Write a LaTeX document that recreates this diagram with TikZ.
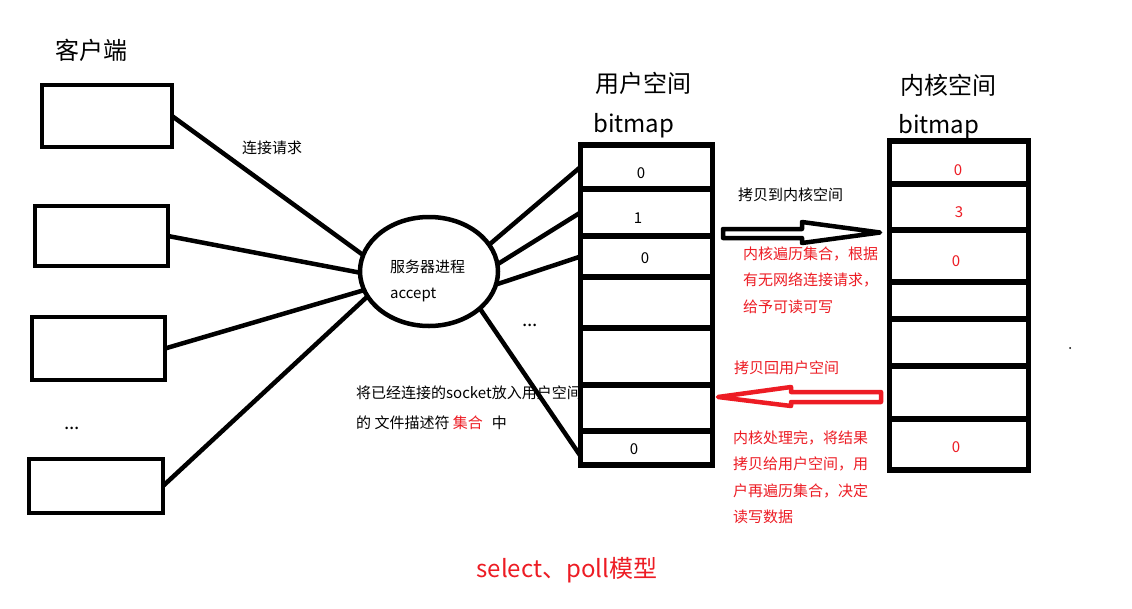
\documentclass[tikz,border=0pt]{standalone}
\usepackage{fontspec}
\setmainfont{Noto Sans CJK SC}
\usetikzlibrary{shapes.geometric}
\definecolor{myred}{RGB}{237,28,36}
\begin{document}
\begin{tikzpicture}[x=1pt,y=-1pt,
  clientbox/.style={draw,line width=4.5pt,rectangle,inner sep=0pt,outer sep=0pt,anchor=north west},
  ucell/.style={draw,line width=5.5pt,rectangle,inner sep=0pt,outer sep=0pt,anchor=north west,minimum width=132pt},
  kcell/.style={draw,line width=5.5pt,rectangle,inner sep=0pt,outer sep=0pt,anchor=north west,minimum width=139pt},
  link/.style={line width=4.5pt},
  smalltxt/.style={font=\fontsize{15}{18}\selectfont,inner sep=0pt},
  dotstxt/.style={font=\fontsize{19}{22}\selectfont,inner sep=0pt},
  bigtxt/.style={font=\fontsize{24}{29}\selectfont,inner sep=0pt},
  redblock/.style={text=myred,font=\fontsize{15}{26.4}\selectfont,align=left,inner sep=0pt,anchor=north west},
  hollow/.style={line width=4.5pt,line join=round,fill=white}]
\useasboundingbox (0,0) rectangle (1132,608);
\fill[white] (0,0) rectangle (1132,608);

% clients
\node[bigtxt] (ctitle) at (91,50) {客户端};
\node[clientbox,minimum width=130pt,minimum height=62pt] (c1) at (42,85) {};
\node[clientbox,minimum width=133pt,minimum height=60pt] (c2) at (35,206) {};
\node[clientbox,minimum width=133pt,minimum height=63pt] (c3) at (32,317) {};
\node[clientbox,minimum width=134pt,minimum height=54pt] (c4) at (29,459) {};
\node[dotstxt] (cdots) at (72,428) {...};
\node[smalltxt] (req) at (272,148) {连接请求};

% server
\node[draw,ellipse,line width=4.5pt,minimum width=138pt,minimum height=109pt,inner sep=0pt,outer sep=0pt] (srv) at (429,271.5) {};
\node[smalltxt,anchor=west] (srvname) at (390,267) {服务器进程};
\node[smalltxt,anchor=base west] (srvacc) at (390,298) {accept};

% user space bitmap
\node[bigtxt,anchor=west] (utitle) at (595,83) {用户空间};
\node[bigtxt,anchor=base west] (ubit) at (593,132) {bitmap};
\node[ucell,minimum height=44pt] (u1) at (580.5,145) {};
\node[ucell,minimum height=47pt] (u2) at (580.5,189) {};
\node[ucell,minimum height=41pt] (u3) at (580.5,236) {};
\node[ucell,minimum height=51pt] (u4) at (580.5,277) {};
\node[ucell,minimum height=57pt] (u5) at (580.5,328) {};
\node[ucell,minimum height=46pt] (u6) at (580.5,385) {};
\node[ucell,minimum height=34pt] (u7) at (580.5,431) {};
\node[smalltxt] (u1v) at (641,173.5) {0};
\node[smalltxt] (u2v) at (638,218.5) {1};
\node[smalltxt] (u3v) at (645,258) {0};
\node[smalltxt] (u7v) at (634,449) {0};

% kernel space bitmap
\node[bigtxt,anchor=west] (ktitle) at (900,85) {内核空间};
\node[bigtxt,anchor=base west] (kbit) at (898,133) {bitmap};
\node[kcell,minimum height=43pt] (k1) at (889.5,141) {};
\node[kcell,minimum height=46pt] (k2) at (889.5,184) {};
\node[kcell,minimum height=52pt] (k3) at (889.5,230) {};
\node[kcell,minimum height=37pt] (k4) at (889.5,282) {};
\node[kcell,minimum height=47pt] (k5) at (889.5,319) {};
\node[kcell,minimum height=53pt] (k6) at (889.5,366) {};
\node[kcell,minimum height=51pt] (k7) at (889.5,419) {};
\node[smalltxt,text=myred] (k1v) at (958,170) {0};
\node[smalltxt,text=myred] (k2v) at (959,212) {3};
\node[smalltxt,text=myred] (k3v) at (956,261) {0};
\node[smalltxt,text=myred] (k7v) at (956,447) {0};

% connectors clients -> server
\draw[link] (c1.east) -- (srv.166);
\draw[link] (c2.east) -- (srv.181);
\draw[link] (c3.east) -- (srv.196);
\draw[link] (c4.east) -- (srv.202);

% connectors server -> user bitmap
\draw[link] (srv.24) -- (u1.west);
\draw[link] (srv.6) -- (u2.west);
\draw[link] (srv.349) -- (u3.west);
\draw[link] (srv.324) -- ([yshift=-8pt]u7.west);
\node[dotstxt] (udots) at (530,325) {...};

\node[smalltxt,anchor=west] (put1) at (356,393) {将已经连接的socket放入用户空间};
\node[smalltxt,anchor=west] (put2) at (356,423) {的 文件描述符 {\color{myred}集合}\hspace{9pt}中};

% copy to kernel arrow
\node[smalltxt,anchor=west] (tok) at (738,195) {拷贝到内核空间};
\draw[hollow,draw=black] (723,229) -- (802,229) -- (802,222) -- (880,232.5) -- (802,243) -- (802,238) -- (723,238) -- cycle;
\node[redblock] (kdesc) at (743,246.5) {内核遍历集合，根据\\有无网络连接请求，\\给予可读可写};

% copy back arrow
\node[smalltxt,anchor=west,text=myred] (tou) at (734,368) {拷贝回用户空间};
\draw[hollow,draw=myred] (881,392) -- (791,392) -- (791,387) -- (718,397) -- (791,406) -- (791,402) -- (881,402) -- cycle;
\node[redblock] (udesc) at (733,430.5) {内核处理完，将结果\\拷贝给用户空间，用\\户再遍历集合，决定\\读写数据};

\fill (1070,348) circle (1pt);

\node[bigtxt,text=myred] (model) at (567,570) {select、poll模型};
\end{tikzpicture}
\end{document}
